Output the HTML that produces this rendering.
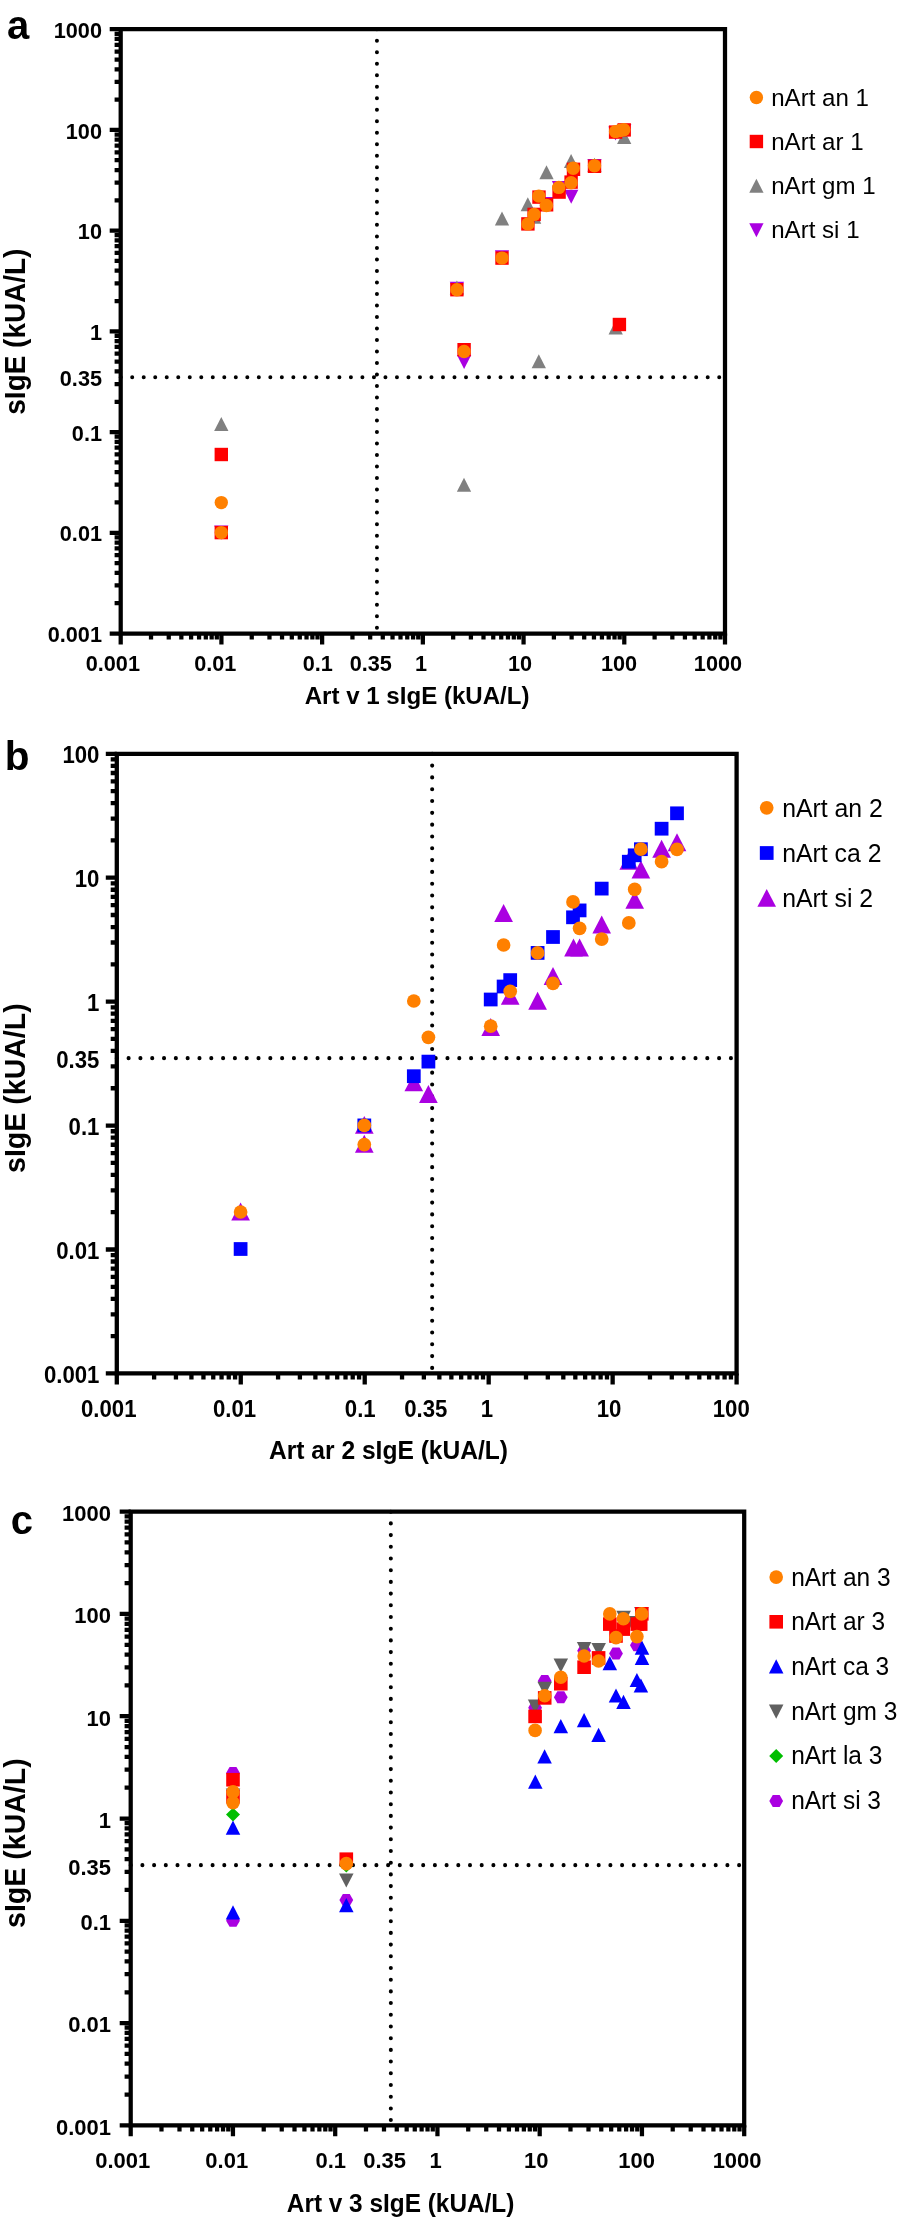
<!DOCTYPE html>
<html><head><meta charset="utf-8"><title>Figure</title>
<style>html,body{margin:0;padding:0;background:#fff}svg{display:block;will-change:transform}text{font-family:"Liberation Sans",sans-serif;fill:#000}</style>
</head><body>
<svg width="898" height="2220" viewBox="0 0 898 2220">
<rect width="898" height="2220" fill="#fff"/>
<path d="M120.7 377.27H725M376.93 29.2V633.5" stroke="#000" stroke-width="4" stroke-linecap="round" stroke-dasharray="0 11.51" fill="none"/>
<path d="M456.9 295.8L464.05 281.8L449.75 281.8Z" fill="#AA00E1"/>
<path d="M502 264.2L509.15 250.2L494.85 250.2Z" fill="#AA00E1"/>
<path d="M546.6 211L553.75 197L539.45 197Z" fill="#AA00E1"/>
<path d="M559 195L566.15 181L551.85 181Z" fill="#AA00E1"/>
<path d="M571.2 203.8L578.35 189.8L564.05 189.8Z" fill="#AA00E1"/>
<path d="M594.5 172.9L601.65 158.9L587.35 158.9Z" fill="#AA00E1"/>
<path d="M615.5 140.4L622.65 126.4L608.35 126.4Z" fill="#AA00E1"/>
<path d="M624.2 138L631.35 124L617.05 124Z" fill="#AA00E1"/>
<path d="M464.1 368.9L471.25 354.9L456.95 354.9Z" fill="#AA00E1"/>
<path d="M221.3 539.6L228.45 525.6L214.15 525.6Z" fill="#AA00E1"/>
<path d="M456.9 280.4L464.05 294.4L449.75 294.4Z" fill="#808080"/>
<path d="M502 211.4L509.15 225.4L494.85 225.4Z" fill="#808080"/>
<path d="M527.8 197.3L534.95 211.3L520.65 211.3Z" fill="#808080"/>
<path d="M534.1 209.8L541.25 223.8L526.95 223.8Z" fill="#808080"/>
<path d="M546.5 165.3L553.65 179.3L539.35 179.3Z" fill="#808080"/>
<path d="M571.1 153.9L578.25 167.9L563.95 167.9Z" fill="#808080"/>
<path d="M594.5 157.8L601.65 171.8L587.35 171.8Z" fill="#808080"/>
<path d="M624.2 130L631.35 144L617.05 144Z" fill="#808080"/>
<path d="M538.8 354.3L545.95 368.3L531.65 368.3Z" fill="#808080"/>
<path d="M615.7 320.6L622.85 334.6L608.55 334.6Z" fill="#808080"/>
<path d="M221.3 416.9L228.45 430.9L214.15 430.9Z" fill="#808080"/>
<path d="M464 477.8L471.15 491.8L456.85 491.8Z" fill="#808080"/>
<rect x="450.2" y="283" width="13.4" height="13.4" fill="#FF0000"/>
<rect x="495.3" y="251.4" width="13.4" height="13.4" fill="#FF0000"/>
<rect x="521.2" y="217.2" width="13.4" height="13.4" fill="#FF0000"/>
<rect x="527.4" y="207.7" width="13.4" height="13.4" fill="#FF0000"/>
<rect x="532.3" y="190.4" width="13.4" height="13.4" fill="#FF0000"/>
<rect x="539.9" y="198.1" width="13.4" height="13.4" fill="#FF0000"/>
<rect x="552.4" y="185.4" width="13.4" height="13.4" fill="#FF0000"/>
<rect x="564.4" y="175.4" width="13.4" height="13.4" fill="#FF0000"/>
<rect x="566.8" y="162.6" width="13.4" height="13.4" fill="#FF0000"/>
<rect x="587.8" y="159.6" width="13.4" height="13.4" fill="#FF0000"/>
<rect x="608.9" y="125.4" width="13.4" height="13.4" fill="#FF0000"/>
<rect x="617.5" y="123.2" width="13.4" height="13.4" fill="#FF0000"/>
<rect x="457.4" y="343" width="13.4" height="13.4" fill="#FF0000"/>
<rect x="612.7" y="317.8" width="13.4" height="13.4" fill="#FF0000"/>
<rect x="214.6" y="447.8" width="13.4" height="13.4" fill="#FF0000"/>
<rect x="214.6" y="525.9" width="13.4" height="13.4" fill="#FF0000"/>
<circle cx="456.9" cy="289.7" r="6.7" fill="#FF8000"/>
<circle cx="502" cy="258.1" r="6.7" fill="#FF8000"/>
<circle cx="527.9" cy="223.9" r="6.7" fill="#FF8000"/>
<circle cx="534.1" cy="214.4" r="6.7" fill="#FF8000"/>
<circle cx="538.8" cy="196.1" r="6.7" fill="#FF8000"/>
<circle cx="546.4" cy="205.5" r="6.7" fill="#FF8000"/>
<circle cx="558.8" cy="187.4" r="6.7" fill="#FF8000"/>
<circle cx="571.1" cy="182.8" r="6.7" fill="#FF8000"/>
<circle cx="573.2" cy="168.3" r="6.7" fill="#FF8000"/>
<circle cx="594.5" cy="165.7" r="6.7" fill="#FF8000"/>
<circle cx="615.6" cy="131.6" r="6.7" fill="#FF8000"/>
<circle cx="620" cy="130.5" r="6.7" fill="#FF8000"/>
<circle cx="623.8" cy="129.8" r="6.7" fill="#FF8000"/>
<circle cx="464.1" cy="351.5" r="6.7" fill="#FF8000"/>
<circle cx="221.3" cy="502.6" r="6.7" fill="#FF8000"/>
<circle cx="221.3" cy="532.6" r="6.7" fill="#FF8000"/>
<path d="M120.7 29.2H725V633.5H120.7Z" stroke="#000" stroke-width="4.25" fill="none" stroke-linejoin="miter"/>
<path d="M120.7 633.5v11M151.02 633.5v6.1M168.75 633.5v6.1M181.34 633.5v6.1M191.1 633.5v6.1M199.07 633.5v6.1M205.82 633.5v6.1M211.66 633.5v6.1M216.81 633.5v6.1M221.42 633.5v11M251.74 633.5v6.1M269.47 633.5v6.1M282.05 633.5v6.1M291.81 633.5v6.1M299.79 633.5v6.1M306.53 633.5v6.1M312.37 633.5v6.1M317.52 633.5v6.1M322.13 633.5v11M352.45 633.5v6.1M370.19 633.5v6.1M382.77 633.5v6.1M392.53 633.5v6.1M400.51 633.5v6.1M407.25 633.5v6.1M413.09 633.5v6.1M418.24 633.5v6.1M422.85 633.5v11M453.17 633.5v6.1M470.9 633.5v6.1M483.49 633.5v6.1M493.25 633.5v6.1M501.22 633.5v6.1M507.97 633.5v6.1M513.81 633.5v6.1M518.96 633.5v6.1M523.57 633.5v11M553.89 633.5v6.1M571.62 633.5v6.1M584.2 633.5v6.1M593.96 633.5v6.1M601.94 633.5v6.1M608.68 633.5v6.1M614.52 633.5v6.1M619.67 633.5v6.1M624.28 633.5v11M654.6 633.5v6.1M672.34 633.5v6.1M684.92 633.5v6.1M694.68 633.5v6.1M702.66 633.5v6.1M709.4 633.5v6.1M715.24 633.5v6.1M720.39 633.5v6.1M725 633.5v11M120.7 633.5h-11M120.7 603.18h-6.1M120.7 585.45h-6.1M120.7 572.86h-6.1M120.7 563.1h-6.1M120.7 555.13h-6.1M120.7 548.38h-6.1M120.7 542.54h-6.1M120.7 537.39h-6.1M120.7 532.78h-11M120.7 502.46h-6.1M120.7 484.73h-6.1M120.7 472.15h-6.1M120.7 462.39h-6.1M120.7 454.41h-6.1M120.7 447.67h-6.1M120.7 441.83h-6.1M120.7 436.68h-6.1M120.7 432.07h-11M120.7 401.75h-6.1M120.7 384.01h-6.1M120.7 371.43h-6.1M120.7 361.67h-6.1M120.7 353.69h-6.1M120.7 346.95h-6.1M120.7 341.11h-6.1M120.7 335.96h-6.1M120.7 331.35h-11M120.7 301.03h-6.1M120.7 283.3h-6.1M120.7 270.71h-6.1M120.7 260.95h-6.1M120.7 252.98h-6.1M120.7 246.23h-6.1M120.7 240.39h-6.1M120.7 235.24h-6.1M120.7 230.63h-11M120.7 200.31h-6.1M120.7 182.58h-6.1M120.7 170h-6.1M120.7 160.24h-6.1M120.7 152.26h-6.1M120.7 145.52h-6.1M120.7 139.68h-6.1M120.7 134.53h-6.1M120.7 129.92h-11M120.7 99.6h-6.1M120.7 81.86h-6.1M120.7 69.28h-6.1M120.7 59.52h-6.1M120.7 51.54h-6.1M120.7 44.8h-6.1M120.7 38.96h-6.1M120.7 33.81h-6.1M120.7 29.2h-11" stroke="#000" stroke-width="4.25" fill="none"/>
<text transform="translate(85.67 670.6) scale(1 1.04)" font-size="21.7" font-weight="bold" >0.001</text>
<text transform="translate(194.18 670.6) scale(1 1.04)" font-size="21.7" font-weight="bold" >0.01</text>
<text transform="translate(302.68 670.6) scale(1 1.04)" font-size="21.7" font-weight="bold" >0.1</text>
<text transform="translate(349.69 670.6) scale(1 1.04)" font-size="21.7" font-weight="bold" >0.35</text>
<text transform="translate(415.07 670.6) scale(1 1.04)" font-size="21.7" font-weight="bold" >1</text>
<text transform="translate(508 670.6) scale(1 1.04)" font-size="21.7" font-weight="bold" >10</text>
<text transform="translate(600.93 670.6) scale(1 1.04)" font-size="21.7" font-weight="bold" >100</text>
<text transform="translate(693.86 670.6) scale(1 1.04)" font-size="21.7" font-weight="bold" >1000</text>
<text transform="translate(102 37.9) scale(1 1.04)" font-size="21.7" font-weight="bold" text-anchor="end" >1000</text>
<text transform="translate(102 138.62) scale(1 1.04)" font-size="21.7" font-weight="bold" text-anchor="end" >100</text>
<text transform="translate(102 239.33) scale(1 1.04)" font-size="21.7" font-weight="bold" text-anchor="end" >10</text>
<text transform="translate(102 340.05) scale(1 1.04)" font-size="21.7" font-weight="bold" text-anchor="end" >1</text>
<text transform="translate(102 385.97) scale(1 1.04)" font-size="21.7" font-weight="bold" text-anchor="end" >0.35</text>
<text transform="translate(102 440.77) scale(1 1.04)" font-size="21.7" font-weight="bold" text-anchor="end" >0.1</text>
<text transform="translate(102 541.48) scale(1 1.04)" font-size="21.7" font-weight="bold" text-anchor="end" >0.01</text>
<text transform="translate(102 642.2) scale(1 1.04)" font-size="21.7" font-weight="bold" text-anchor="end" >0.001</text>
<text transform="translate(304.7 703.5) scale(1 1.02)" font-size="24.1" font-weight="bold" >Art v 1 sIgE (kUA/L)</text>
<text transform="translate(24.7 414.67) rotate(-90) scale(1 1.065)" font-size="27.95" font-weight="bold" >sIgE (kUA/L)</text>
<text transform="translate(6.93 38.7)" font-size="40" font-weight="bold" >a</text>
<circle cx="756.4" cy="97.5" r="6.7" fill="#FF8000"/>
<text transform="translate(771.2 105.7) scale(1 1.02)" font-size="24.1" >nArt an 1</text>
<rect x="749.7" y="134.8" width="13.4" height="13.4" fill="#FF0000"/>
<text transform="translate(771.2 149.7) scale(1 1.02)" font-size="24.1" >nArt ar 1</text>
<path d="M756.4 178.8L763.55 192.8L749.25 192.8Z" fill="#808080"/>
<text transform="translate(771.2 194) scale(1 1.02)" font-size="24.1" >nArt gm 1</text>
<path d="M756.4 237.2L763.55 223.2L749.25 223.2Z" fill="#AA00E1"/>
<text transform="translate(771.2 238.4) scale(1 1.02)" font-size="24.1" >nArt si 1</text>
<path d="M116.8 1058.14H736.6M432.16 753.8V1373.4" stroke="#000" stroke-width="4.1" stroke-linecap="round" stroke-dasharray="0 11.81" fill="none"/>
<path d="M677 833.37L686.34 851.23L667.66 851.23Z" fill="#AA00E1"/>
<path d="M661.6 839.77L670.94 857.63L652.26 857.63Z" fill="#AA00E1"/>
<path d="M640.9 860.57L650.24 878.43L631.56 878.43Z" fill="#AA00E1"/>
<path d="M628.8 851.77L638.14 869.63L619.46 869.63Z" fill="#AA00E1"/>
<path d="M634.7 890.97L644.04 908.83L625.36 908.83Z" fill="#AA00E1"/>
<path d="M601.7 915.57L611.04 933.43L592.36 933.43Z" fill="#AA00E1"/>
<path d="M579.6 938.57L588.94 956.43L570.26 956.43Z" fill="#AA00E1"/>
<path d="M573.5 938.57L582.84 956.43L564.16 956.43Z" fill="#AA00E1"/>
<path d="M553 967.07L562.34 984.93L543.66 984.93Z" fill="#AA00E1"/>
<path d="M537.6 991.87L546.94 1009.73L528.26 1009.73Z" fill="#AA00E1"/>
<path d="M503.6 904.07L512.94 921.93L494.26 921.93Z" fill="#AA00E1"/>
<path d="M510.2 986.77L519.54 1004.63L500.86 1004.63Z" fill="#AA00E1"/>
<path d="M490.7 1018.07L500.04 1035.93L481.36 1035.93Z" fill="#AA00E1"/>
<path d="M413.8 1073.47L423.14 1091.33L404.46 1091.33Z" fill="#AA00E1"/>
<path d="M428.4 1085.07L437.74 1102.93L419.06 1102.93Z" fill="#AA00E1"/>
<path d="M364.3 1115.97L373.64 1133.83L354.96 1133.83Z" fill="#AA00E1"/>
<path d="M364.3 1134.77L373.64 1152.63L354.96 1152.63Z" fill="#AA00E1"/>
<path d="M240.6 1202.57L249.94 1220.43L231.26 1220.43Z" fill="#AA00E1"/>
<rect x="670.13" y="806.43" width="13.75" height="13.75" fill="#0000FF"/>
<rect x="654.73" y="821.83" width="13.75" height="13.75" fill="#0000FF"/>
<rect x="634.03" y="842.33" width="13.75" height="13.75" fill="#0000FF"/>
<rect x="627.83" y="848.43" width="13.75" height="13.75" fill="#0000FF"/>
<rect x="621.93" y="854.83" width="13.75" height="13.75" fill="#0000FF"/>
<rect x="594.83" y="881.73" width="13.75" height="13.75" fill="#0000FF"/>
<rect x="572.73" y="903.53" width="13.75" height="13.75" fill="#0000FF"/>
<rect x="566.13" y="910.43" width="13.75" height="13.75" fill="#0000FF"/>
<rect x="546.13" y="930.13" width="13.75" height="13.75" fill="#0000FF"/>
<rect x="530.73" y="946.03" width="13.75" height="13.75" fill="#0000FF"/>
<rect x="503.33" y="973.23" width="13.75" height="13.75" fill="#0000FF"/>
<rect x="496.73" y="979.63" width="13.75" height="13.75" fill="#0000FF"/>
<rect x="483.83" y="992.63" width="13.75" height="13.75" fill="#0000FF"/>
<rect x="421.53" y="1054.73" width="13.75" height="13.75" fill="#0000FF"/>
<rect x="406.93" y="1069.33" width="13.75" height="13.75" fill="#0000FF"/>
<rect x="357.43" y="1118.53" width="13.75" height="13.75" fill="#0000FF"/>
<rect x="233.73" y="1242.13" width="13.75" height="13.75" fill="#0000FF"/>
<circle cx="677" cy="849.4" r="6.87" fill="#FF8000"/>
<circle cx="661.6" cy="861.7" r="6.87" fill="#FF8000"/>
<circle cx="640.9" cy="849.2" r="6.87" fill="#FF8000"/>
<circle cx="634.7" cy="889.4" r="6.87" fill="#FF8000"/>
<circle cx="628.8" cy="922.9" r="6.87" fill="#FF8000"/>
<circle cx="601.7" cy="939.1" r="6.87" fill="#FF8000"/>
<circle cx="573" cy="901.9" r="6.87" fill="#FF8000"/>
<circle cx="579.6" cy="928.3" r="6.87" fill="#FF8000"/>
<circle cx="553" cy="983.4" r="6.87" fill="#FF8000"/>
<circle cx="537.6" cy="952.9" r="6.87" fill="#FF8000"/>
<circle cx="503.6" cy="945" r="6.87" fill="#FF8000"/>
<circle cx="510.2" cy="991.3" r="6.87" fill="#FF8000"/>
<circle cx="490.7" cy="1026.2" r="6.87" fill="#FF8000"/>
<circle cx="413.8" cy="1001" r="6.87" fill="#FF8000"/>
<circle cx="428.4" cy="1037.3" r="6.87" fill="#FF8000"/>
<circle cx="364.3" cy="1125.4" r="6.87" fill="#FF8000"/>
<circle cx="364.3" cy="1144.6" r="6.87" fill="#FF8000"/>
<circle cx="240.6" cy="1212" r="6.87" fill="#FF8000"/>
<path d="M116.8 753.8H736.6V1373.4H116.8Z" stroke="#000" stroke-width="4.3" fill="none" stroke-linejoin="miter"/>
<path d="M116.8 1373.4v11M154.12 1373.4v6.1M175.94 1373.4v6.1M191.43 1373.4v6.1M203.44 1373.4v6.1M213.26 1373.4v6.1M221.56 1373.4v6.1M228.75 1373.4v6.1M235.09 1373.4v6.1M240.76 1373.4v11M278.08 1373.4v6.1M299.9 1373.4v6.1M315.39 1373.4v6.1M327.4 1373.4v6.1M337.22 1373.4v6.1M345.52 1373.4v6.1M352.71 1373.4v6.1M359.05 1373.4v6.1M364.72 1373.4v11M402.04 1373.4v6.1M423.86 1373.4v6.1M439.35 1373.4v6.1M451.36 1373.4v6.1M461.18 1373.4v6.1M469.48 1373.4v6.1M476.67 1373.4v6.1M483.01 1373.4v6.1M488.68 1373.4v11M526 1373.4v6.1M547.82 1373.4v6.1M563.31 1373.4v6.1M575.32 1373.4v6.1M585.14 1373.4v6.1M593.44 1373.4v6.1M600.63 1373.4v6.1M606.97 1373.4v6.1M612.64 1373.4v11M649.96 1373.4v6.1M671.78 1373.4v6.1M687.27 1373.4v6.1M699.28 1373.4v6.1M709.1 1373.4v6.1M717.4 1373.4v6.1M724.59 1373.4v6.1M730.93 1373.4v6.1M736.6 1373.4v11M116.8 1373.4h-11M116.8 1336.1h-6.1M116.8 1314.28h-6.1M116.8 1298.79h-6.1M116.8 1286.78h-6.1M116.8 1276.97h-6.1M116.8 1268.68h-6.1M116.8 1261.49h-6.1M116.8 1255.15h-6.1M116.8 1249.48h-11M116.8 1212.18h-6.1M116.8 1190.36h-6.1M116.8 1174.87h-6.1M116.8 1162.86h-6.1M116.8 1153.05h-6.1M116.8 1144.76h-6.1M116.8 1137.57h-6.1M116.8 1131.23h-6.1M116.8 1125.56h-11M116.8 1088.26h-6.1M116.8 1066.44h-6.1M116.8 1050.95h-6.1M116.8 1038.94h-6.1M116.8 1029.13h-6.1M116.8 1020.84h-6.1M116.8 1013.65h-6.1M116.8 1007.31h-6.1M116.8 1001.64h-11M116.8 964.34h-6.1M116.8 942.52h-6.1M116.8 927.03h-6.1M116.8 915.02h-6.1M116.8 905.21h-6.1M116.8 896.92h-6.1M116.8 889.73h-6.1M116.8 883.39h-6.1M116.8 877.72h-11M116.8 840.42h-6.1M116.8 818.6h-6.1M116.8 803.11h-6.1M116.8 791.1h-6.1M116.8 781.29h-6.1M116.8 773h-6.1M116.8 765.81h-6.1M116.8 759.47h-6.1M116.8 753.8h-11" stroke="#000" stroke-width="4.3" fill="none"/>
<text transform="translate(80.97 1416.9) scale(1 1.04)" font-size="22.2" font-weight="bold" >0.001</text>
<text transform="translate(212.89 1416.9) scale(1 1.04)" font-size="22.2" font-weight="bold" >0.01</text>
<text transform="translate(344.81 1416.9) scale(1 1.04)" font-size="22.2" font-weight="bold" >0.1</text>
<text transform="translate(404.29 1416.9) scale(1 1.04)" font-size="22.2" font-weight="bold" >0.35</text>
<text transform="translate(480.72 1416.9) scale(1 1.04)" font-size="22.2" font-weight="bold" >1</text>
<text transform="translate(596.71 1416.9) scale(1 1.04)" font-size="22.2" font-weight="bold" >10</text>
<text transform="translate(712.71 1416.9) scale(1 1.04)" font-size="22.2" font-weight="bold" >100</text>
<text transform="translate(99.4 763.2) scale(1 1.04)" font-size="22.2" font-weight="bold" text-anchor="end" >100</text>
<text transform="translate(99.4 887.12) scale(1 1.04)" font-size="22.2" font-weight="bold" text-anchor="end" >10</text>
<text transform="translate(99.4 1011.04) scale(1 1.04)" font-size="22.2" font-weight="bold" text-anchor="end" >1</text>
<text transform="translate(99.4 1067.54) scale(1 1.04)" font-size="22.2" font-weight="bold" text-anchor="end" >0.35</text>
<text transform="translate(99.4 1134.96) scale(1 1.04)" font-size="22.2" font-weight="bold" text-anchor="end" >0.1</text>
<text transform="translate(99.4 1258.88) scale(1 1.04)" font-size="22.2" font-weight="bold" text-anchor="end" >0.01</text>
<text transform="translate(99.4 1382.8) scale(1 1.04)" font-size="22.2" font-weight="bold" text-anchor="end" >0.001</text>
<text transform="translate(268.99 1459.3) scale(1 1.02)" font-size="24.6" font-weight="bold" >Art ar 2 sIgE (kUA/L)</text>
<text transform="translate(24.7 1172.95) rotate(-90) scale(1 1.065)" font-size="28.55" font-weight="bold" >sIgE (kUA/L)</text>
<text transform="translate(4.63 769.8)" font-size="40.5" font-weight="bold" >b</text>
<circle cx="766.7" cy="807.8" r="6.87" fill="#FF8000"/>
<text transform="translate(782.25 816.5) scale(1 1.02)" font-size="24.8" >nArt an 2</text>
<rect x="759.83" y="846.13" width="13.75" height="13.75" fill="#0000FF"/>
<text transform="translate(782.25 861.7) scale(1 1.02)" font-size="24.8" >nArt ca 2</text>
<path d="M766.7 888.97L776.04 906.83L757.36 906.83Z" fill="#AA00E1"/>
<text transform="translate(782.25 906.6) scale(1 1.02)" font-size="24.8" >nArt si 2</text>
<path d="M130.7 1865.13H744.2M390.83 1511.7V2125.3" stroke="#000" stroke-width="4.05" stroke-linecap="round" stroke-dasharray="0 11.7" fill="none"/>
<path d="M528.2 1707.7L531.65 1701.71L538.55 1701.71L542 1707.7L538.55 1713.69L531.65 1713.69Z" fill="#AA00E1"/>
<path d="M537.8 1680.9L541.25 1674.91L548.15 1674.91L551.6 1680.9L548.15 1686.89L541.25 1686.89Z" fill="#AA00E1"/>
<path d="M553.9 1697.2L557.35 1691.21L564.25 1691.21L567.7 1697.2L564.25 1703.19L557.35 1703.19Z" fill="#AA00E1"/>
<path d="M577.2 1650.7L580.65 1644.71L587.55 1644.71L591 1650.7L587.55 1656.69L580.65 1656.69Z" fill="#AA00E1"/>
<path d="M609.1 1653.4L612.55 1647.41L619.45 1647.41L622.9 1653.4L619.45 1659.39L612.55 1659.39Z" fill="#AA00E1"/>
<path d="M630 1645.3L633.45 1639.31L640.35 1639.31L643.8 1645.3L640.35 1651.29L633.45 1651.29Z" fill="#AA00E1"/>
<path d="M226.1 1773.1L229.55 1767.11L236.45 1767.11L239.9 1773.1L236.45 1779.09L229.55 1779.09Z" fill="#AA00E1"/>
<path d="M226.1 1920.7L229.55 1914.71L236.45 1914.71L239.9 1920.7L236.45 1926.69L229.55 1926.69Z" fill="#AA00E1"/>
<path d="M339.4 1899.9L342.85 1893.91L349.75 1893.91L353.2 1899.9L349.75 1905.89L342.85 1905.89Z" fill="#AA00E1"/>
<path d="M233 1807.65L240 1814.6L233 1821.55L226 1814.6Z" fill="#00BE00"/>
<path d="M346.3 1858.65L353.3 1865.6L346.3 1872.55L339.3 1865.6Z" fill="#00BE00"/>
<path d="M535.1 1713.61L542.36 1699.39L527.84 1699.39Z" fill="#606060"/>
<path d="M544.7 1695.9L551.96 1681.69L537.44 1681.69Z" fill="#606060"/>
<path d="M560.8 1672.61L568.06 1658.39L553.54 1658.39Z" fill="#606060"/>
<path d="M584.1 1656.11L591.36 1641.89L576.84 1641.89Z" fill="#606060"/>
<path d="M598.7 1657.11L605.96 1642.89L591.44 1642.89Z" fill="#606060"/>
<path d="M623.6 1624.9L630.86 1610.69L616.34 1610.69Z" fill="#606060"/>
<path d="M632 1630.11L639.26 1615.89L624.74 1615.89Z" fill="#606060"/>
<path d="M641.4 1621.2L648.66 1606.99L634.14 1606.99Z" fill="#606060"/>
<path d="M233 1802.61L240.26 1788.39L225.74 1788.39Z" fill="#606060"/>
<path d="M346.3 1887.61L353.56 1873.39L339.04 1873.39Z" fill="#606060"/>
<path d="M535.3 1774.6L542.56 1788.81L528.04 1788.81Z" fill="#0000FF"/>
<path d="M544.6 1749.3L551.86 1763.51L537.34 1763.51Z" fill="#0000FF"/>
<path d="M560.8 1718.99L568.06 1733.2L553.54 1733.2Z" fill="#0000FF"/>
<path d="M584.1 1713.1L591.36 1727.31L576.84 1727.31Z" fill="#0000FF"/>
<path d="M598.6 1727.69L605.86 1741.9L591.34 1741.9Z" fill="#0000FF"/>
<path d="M609.8 1656.1L617.06 1670.31L602.54 1670.31Z" fill="#0000FF"/>
<path d="M616 1688.39L623.26 1702.61L608.74 1702.61Z" fill="#0000FF"/>
<path d="M623.5 1694.8L630.76 1709.01L616.24 1709.01Z" fill="#0000FF"/>
<path d="M636.9 1672.89L644.16 1687.11L629.64 1687.11Z" fill="#0000FF"/>
<path d="M640.9 1678.39L648.16 1692.61L633.64 1692.61Z" fill="#0000FF"/>
<path d="M642 1640.49L649.26 1654.7L634.74 1654.7Z" fill="#0000FF"/>
<path d="M642 1650.8L649.26 1665.01L634.74 1665.01Z" fill="#0000FF"/>
<path d="M233 1820.49L240.26 1834.7L225.74 1834.7Z" fill="#0000FF"/>
<path d="M233 1905.3L240.26 1919.51L225.74 1919.51Z" fill="#0000FF"/>
<path d="M346.3 1897.99L353.56 1912.2L339.04 1912.2Z" fill="#0000FF"/>
<rect x="528.3" y="1709.6" width="13.6" height="13.6" fill="#FF0000"/>
<rect x="537.9" y="1691.1" width="13.6" height="13.6" fill="#FF0000"/>
<rect x="554" y="1676.9" width="13.6" height="13.6" fill="#FF0000"/>
<rect x="577.3" y="1660.4" width="13.6" height="13.6" fill="#FF0000"/>
<rect x="591.8" y="1651.1" width="13.6" height="13.6" fill="#FF0000"/>
<rect x="603" y="1617.3" width="13.6" height="13.6" fill="#FF0000"/>
<rect x="609.2" y="1629.2" width="13.6" height="13.6" fill="#FF0000"/>
<rect x="616.5" y="1622.3" width="13.6" height="13.6" fill="#FF0000"/>
<rect x="630.5" y="1617.3" width="13.6" height="13.6" fill="#FF0000"/>
<rect x="633.9" y="1617.3" width="13.6" height="13.6" fill="#FF0000"/>
<rect x="635" y="1607" width="13.6" height="13.6" fill="#FF0000"/>
<rect x="226.2" y="1772.95" width="13.6" height="13.6" fill="#FF0000"/>
<rect x="226.2" y="1790" width="13.6" height="13.6" fill="#FF0000"/>
<rect x="339.5" y="1852.4" width="13.6" height="13.6" fill="#FF0000"/>
<circle cx="535.1" cy="1730.4" r="6.8" fill="#FF8000"/>
<circle cx="544.7" cy="1695.7" r="6.8" fill="#FF8000"/>
<circle cx="560.8" cy="1677.2" r="6.8" fill="#FF8000"/>
<circle cx="584.1" cy="1656" r="6.8" fill="#FF8000"/>
<circle cx="598.6" cy="1661" r="6.8" fill="#FF8000"/>
<circle cx="609.8" cy="1613.9" r="6.8" fill="#FF8000"/>
<circle cx="616" cy="1637.6" r="6.8" fill="#FF8000"/>
<circle cx="623.4" cy="1618.8" r="6.8" fill="#FF8000"/>
<circle cx="636.9" cy="1636.6" r="6.8" fill="#FF8000"/>
<circle cx="641.7" cy="1613.9" r="6.8" fill="#FF8000"/>
<circle cx="233" cy="1791.9" r="6.8" fill="#FF8000"/>
<circle cx="233" cy="1802.6" r="6.8" fill="#FF8000"/>
<circle cx="346.3" cy="1863.6" r="6.8" fill="#FF8000"/>
<path d="M130.7 1511.7H744.2V2125.3H130.7Z" stroke="#000" stroke-width="4.25" fill="none" stroke-linejoin="miter"/>
<path d="M130.7 2125.3v11M161.48 2125.3v6.1M179.49 2125.3v6.1M192.26 2125.3v6.1M202.17 2125.3v6.1M210.27 2125.3v6.1M217.11 2125.3v6.1M223.04 2125.3v6.1M228.27 2125.3v6.1M232.95 2125.3v11M263.73 2125.3v6.1M281.74 2125.3v6.1M294.51 2125.3v6.1M304.42 2125.3v6.1M312.52 2125.3v6.1M319.36 2125.3v6.1M325.29 2125.3v6.1M330.52 2125.3v6.1M335.2 2125.3v11M365.98 2125.3v6.1M383.99 2125.3v6.1M396.76 2125.3v6.1M406.67 2125.3v6.1M414.77 2125.3v6.1M421.61 2125.3v6.1M427.54 2125.3v6.1M432.77 2125.3v6.1M437.45 2125.3v11M468.23 2125.3v6.1M486.24 2125.3v6.1M499.01 2125.3v6.1M508.92 2125.3v6.1M517.02 2125.3v6.1M523.86 2125.3v6.1M529.79 2125.3v6.1M535.02 2125.3v6.1M539.7 2125.3v11M570.48 2125.3v6.1M588.49 2125.3v6.1M601.26 2125.3v6.1M611.17 2125.3v6.1M619.27 2125.3v6.1M626.11 2125.3v6.1M632.04 2125.3v6.1M637.27 2125.3v6.1M641.95 2125.3v11M672.73 2125.3v6.1M690.74 2125.3v6.1M703.51 2125.3v6.1M713.42 2125.3v6.1M721.52 2125.3v6.1M728.36 2125.3v6.1M734.29 2125.3v6.1M739.52 2125.3v6.1M744.2 2125.3v11M130.7 2125.3h-11M130.7 2094.51h-6.1M130.7 2076.51h-6.1M130.7 2063.73h-6.1M130.7 2053.82h-6.1M130.7 2045.72h-6.1M130.7 2038.87h-6.1M130.7 2032.94h-6.1M130.7 2027.71h-6.1M130.7 2023.03h-11M130.7 1992.25h-6.1M130.7 1974.24h-6.1M130.7 1961.46h-6.1M130.7 1951.55h-6.1M130.7 1943.45h-6.1M130.7 1936.61h-6.1M130.7 1930.68h-6.1M130.7 1925.45h-6.1M130.7 1920.77h-11M130.7 1889.98h-6.1M130.7 1871.97h-6.1M130.7 1859.2h-6.1M130.7 1849.29h-6.1M130.7 1841.19h-6.1M130.7 1834.34h-6.1M130.7 1828.41h-6.1M130.7 1823.18h-6.1M130.7 1818.5h-11M130.7 1787.71h-6.1M130.7 1769.71h-6.1M130.7 1756.93h-6.1M130.7 1747.02h-6.1M130.7 1738.92h-6.1M130.7 1732.07h-6.1M130.7 1726.14h-6.1M130.7 1720.91h-6.1M130.7 1716.23h-11M130.7 1685.45h-6.1M130.7 1667.44h-6.1M130.7 1654.66h-6.1M130.7 1644.75h-6.1M130.7 1636.65h-6.1M130.7 1629.81h-6.1M130.7 1623.88h-6.1M130.7 1618.65h-6.1M130.7 1613.97h-11M130.7 1583.18h-6.1M130.7 1565.17h-6.1M130.7 1552.4h-6.1M130.7 1542.49h-6.1M130.7 1534.39h-6.1M130.7 1527.54h-6.1M130.7 1521.61h-6.1M130.7 1516.38h-6.1M130.7 1511.7h-11" stroke="#000" stroke-width="4.25" fill="none"/>
<text transform="translate(95.19 2168) scale(1 1.04)" font-size="22" font-weight="bold" >0.001</text>
<text transform="translate(205.33 2168) scale(1 1.04)" font-size="22" font-weight="bold" >0.01</text>
<text transform="translate(315.47 2168) scale(1 1.04)" font-size="22" font-weight="bold" >0.1</text>
<text transform="translate(363.21 2168) scale(1 1.04)" font-size="22" font-weight="bold" >0.35</text>
<text transform="translate(429.56 2168) scale(1 1.04)" font-size="22" font-weight="bold" >1</text>
<text transform="translate(523.92 2168) scale(1 1.04)" font-size="22" font-weight="bold" >10</text>
<text transform="translate(618.27 2168) scale(1 1.04)" font-size="22" font-weight="bold" >100</text>
<text transform="translate(712.63 2168) scale(1 1.04)" font-size="22" font-weight="bold" >1000</text>
<text transform="translate(111 1521.1) scale(1 1.04)" font-size="22" font-weight="bold" text-anchor="end" >1000</text>
<text transform="translate(111 1623.37) scale(1 1.04)" font-size="22" font-weight="bold" text-anchor="end" >100</text>
<text transform="translate(111 1725.63) scale(1 1.04)" font-size="22" font-weight="bold" text-anchor="end" >10</text>
<text transform="translate(111 1827.9) scale(1 1.04)" font-size="22" font-weight="bold" text-anchor="end" >1</text>
<text transform="translate(111 1874.53) scale(1 1.04)" font-size="22" font-weight="bold" text-anchor="end" >0.35</text>
<text transform="translate(111 1930.17) scale(1 1.04)" font-size="22" font-weight="bold" text-anchor="end" >0.1</text>
<text transform="translate(111 2032.43) scale(1 1.04)" font-size="22" font-weight="bold" text-anchor="end" >0.01</text>
<text transform="translate(111 2134.7) scale(1 1.04)" font-size="22" font-weight="bold" text-anchor="end" >0.001</text>
<text transform="translate(286.79 2211.5) scale(1 1.02)" font-size="24.4" font-weight="bold" >Art v 3 sIgE (kUA/L)</text>
<text transform="translate(24.8 1927.95) rotate(-90) scale(1 1.065)" font-size="28.55" font-weight="bold" >sIgE (kUA/L)</text>
<text transform="translate(10.64 1533.7)" font-size="40" font-weight="bold" >c</text>
<circle cx="776.2" cy="1577.1" r="6.8" fill="#FF8000"/>
<text transform="translate(791.17 1585.5) scale(1 1.02)" font-size="24.5" >nArt an 3</text>
<rect x="769.4" y="1615" width="13.6" height="13.6" fill="#FF0000"/>
<text transform="translate(791.17 1630.2) scale(1 1.02)" font-size="24.5" >nArt ar 3</text>
<path d="M776.2 1659.3L783.46 1673.51L768.94 1673.51Z" fill="#0000FF"/>
<text transform="translate(791.17 1674.8) scale(1 1.02)" font-size="24.5" >nArt ca 3</text>
<path d="M776.2 1718.81L783.46 1704.6L768.94 1704.6Z" fill="#606060"/>
<text transform="translate(791.17 1720.1) scale(1 1.02)" font-size="24.5" >nArt gm 3</text>
<path d="M776.2 1749.05L783.2 1756L776.2 1762.95L769.2 1756Z" fill="#00BE00"/>
<text transform="translate(791.17 1764.4) scale(1 1.02)" font-size="24.5" >nArt la 3</text>
<path d="M769.3 1800.9L772.75 1794.91L779.65 1794.91L783.1 1800.9L779.65 1806.89L772.75 1806.89Z" fill="#AA00E1"/>
<text transform="translate(791.17 1809.3) scale(1 1.02)" font-size="24.5" >nArt si 3</text>
</svg>
</body></html>
